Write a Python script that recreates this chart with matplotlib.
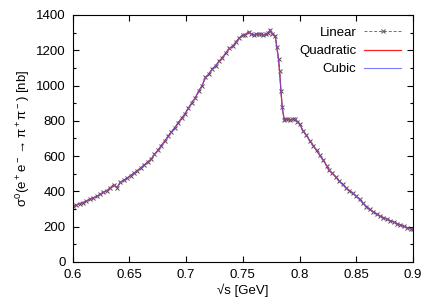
import matplotlib
matplotlib.use("Agg")
import matplotlib.pyplot as plt
from matplotlib.ticker import MultipleLocator

plt.rcParams['font.family'] = ['Liberation Sans', 'DejaVu Sans']
plt.rcParams['mathtext.fontset'] = 'custom'
plt.rcParams['mathtext.rm'] = 'Liberation Sans'
plt.rcParams['mathtext.it'] = 'Liberation Sans'

# sqrt(s) [GeV] and cross section [nb]
sqrt_s = [0.600, 0.603, 0.606, 0.609, 0.612, 0.615, 0.618, 0.621, 0.624, 0.627,
          0.630, 0.633, 0.636, 0.639, 0.642, 0.645, 0.648, 0.651, 0.654, 0.657,
          0.660, 0.663, 0.666, 0.669, 0.672, 0.675, 0.678, 0.681, 0.684, 0.687,
          0.690, 0.693, 0.696, 0.699, 0.702, 0.705, 0.708, 0.711, 0.714, 0.717,
          0.720, 0.723, 0.726, 0.729, 0.732, 0.735, 0.738, 0.741, 0.744, 0.747,
          0.750, 0.752, 0.755, 0.757, 0.760, 0.762, 0.764, 0.766, 0.768, 0.770,
          0.772, 0.774, 0.776, 0.7786, 0.780, 0.7815, 0.7824, 0.7836, 0.7847, 0.7865,
          0.788, 0.790, 0.792, 0.794, 0.796, 0.798, 0.800, 0.803, 0.806, 0.809,
          0.812, 0.815, 0.818, 0.821, 0.824, 0.826, 0.829, 0.832, 0.835, 0.838,
          0.841, 0.844, 0.847, 0.850, 0.853, 0.856, 0.859, 0.862, 0.865, 0.868,
          0.871, 0.874, 0.877, 0.880, 0.883, 0.886, 0.889, 0.892, 0.895, 0.898,
          0.900]
sigma = [316, 322, 331, 337, 345, 356, 364, 372, 383, 395,
         404, 420, 437, 422, 452, 463, 476, 490, 504, 518,
         533, 550, 566, 582, 610, 632, 660, 684, 712, 738,
         760, 790, 815, 840, 872, 903, 930, 968, 999, 1046,
         1065, 1094, 1112, 1138, 1158, 1185, 1210, 1222, 1248, 1270,
         1288, 1285, 1306, 1292, 1287, 1294, 1290, 1292, 1284, 1290,
         1298, 1314, 1292, 1282, 1216, 1150, 1084, 971, 877, 806,
         812, 808, 805, 812, 811, 795, 783, 745, 718, 688,
         660, 632, 604, 576, 545, 520, 502, 482, 458, 440,
         420, 405, 390, 372, 355, 333, 314, 298, 284, 272,
         260, 252, 243, 234, 227, 218, 210, 202, 195, 188,
         186]

fs = 9.5

fig = plt.figure(figsize=(4.36, 3.05), dpi=100)
ax = fig.add_axes([0.167, 0.141, 0.780, 0.810])

ax.plot(sqrt_s, sigma, ls='--', lw=0.7, color='#707070', marker='x', ms=3.5,
        mew=0.7, mec='#505050', dashes=(3, 2), label='Linear')
ax.plot(sqrt_s, sigma, '-', lw=0.9, color='#ff2020', label='Quadratic')
ax.plot(sqrt_s, sigma, '-', lw=0.8, color='#5050ff', alpha=0.75, label='Cubic')

ax.set_xlim(0.6, 0.9)
ax.set_ylim(0, 1400)
ax.yaxis.set_major_locator(MultipleLocator(200))
ax.yaxis.set_minor_locator(MultipleLocator(100))
ax.set_xticks([0.6, 0.65, 0.7, 0.75, 0.8, 0.85, 0.9])
ax.set_xticklabels(['0.6', '0.65', '0.7', '0.75', '0.8', '0.85', '0.9'])
ax.tick_params(which='both', direction='in', top=True, right=True, labelsize=fs, width=0.8)
ax.tick_params(which='major', length=4.5, pad=5)
ax.tick_params(which='minor', length=2.5)
for s in ax.spines.values():
    s.set_linewidth(0.8)

ax.set_xlabel('√s [GeV]', fontsize=fs, labelpad=2)
ax.set_ylabel(r'$\sigma^0$(e$^+$e$^-$$\rightarrow\pi^+\pi^-$) [nb]', fontsize=fs, labelpad=3)

leg = ax.legend(loc='upper right', markerfirst=False, frameon=False, fontsize=fs,
                handlelength=2.8, labelspacing=0.45, borderaxespad=0.5, handletextpad=0.6)

fig.savefig('out.png', dpi=100)
